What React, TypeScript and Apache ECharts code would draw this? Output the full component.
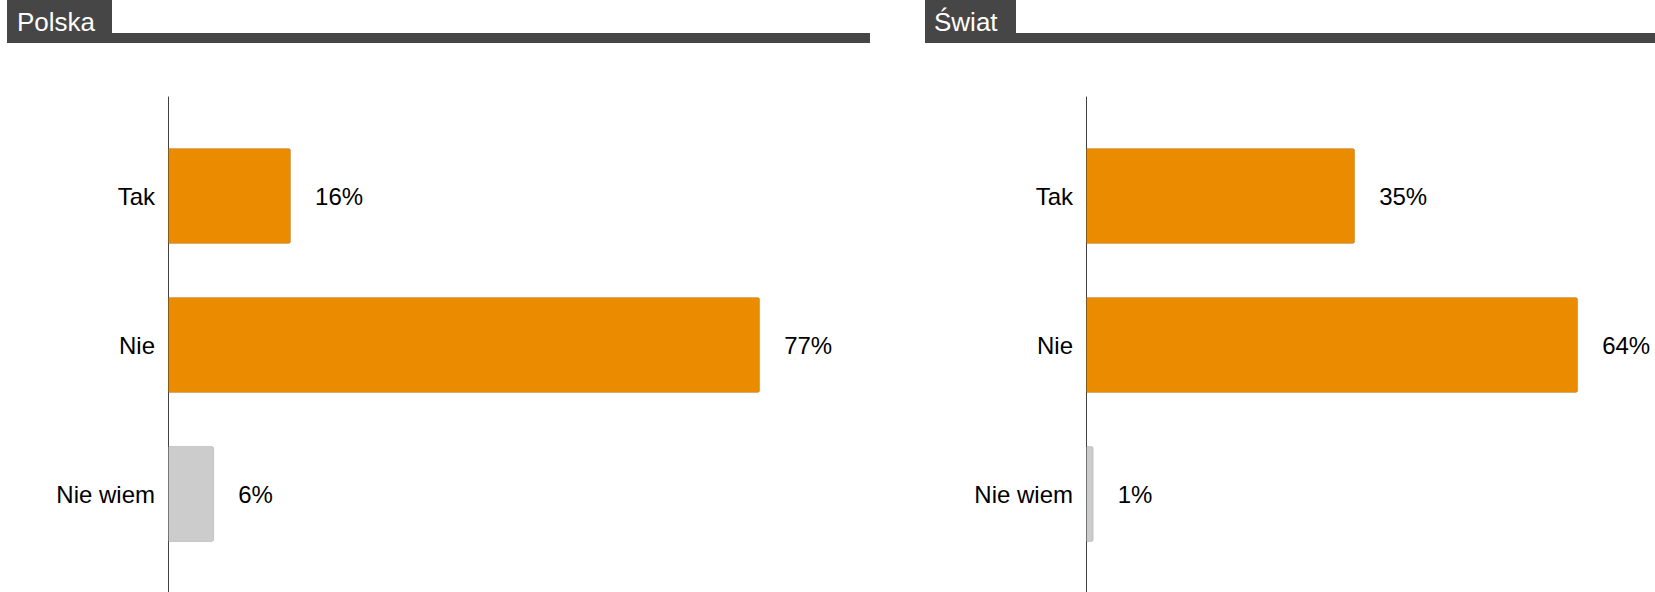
import React, { useEffect, useRef } from "react";
import * as echarts from "echarts";

const categories = ["Tak", "Nie", "Nie wiem"];
const polskaValues = [16, 77, 6];
const swiatValues = [35, 64, 1];
const panelTitles = ["Polska", "Świat"];
const barColors = ["#EB8C00", "#EB8C00", "#CCCCCC"];

const FONT = "'Liberation Sans', Arial, sans-serif";
const PX_PER_PCT = 7.69;

export default function App() {
  const ref = useRef<HTMLDivElement>(null);

  useEffect(() => {
    if (!ref.current) return;
    const chart = echarts.init(ref.current, null, { renderer: "svg" });

    const leftMax = 80;
    const rightMax = 70;

    const makeSeries = (values: number[], idx: number) => ({
      type: "bar",
      xAxisIndex: idx,
      yAxisIndex: idx,
      barWidth: 96,
      data: values.map((v, i) => ({
        value: v,
        itemStyle: {
          color: barColors[i],
          borderRadius: [0, 2, 2, 0],
          borderColor: "rgba(0,0,0,0.12)",
          borderWidth: 1,
        },
      })),
      label: {
        show: true,
        position: "right",
        distance: 24,
        formatter: "{c}%",
        color: "#000",
        fontSize: 24,
        fontFamily: FONT,
        textBorderColor: "#fff",
        textBorderWidth: 2,
      },
    });

    const catAxis = (gridIndex: number) => ({
      type: "category",
      gridIndex,
      data: categories,
      inverse: true,
      axisLine: { show: false },
      axisTick: { show: false },
      axisLabel: {
        color: "#000",
        fontSize: 24,
        fontFamily: FONT,
        margin: 13,
      },
    });

    const lineAxis = (gridIndex: number) => ({
      type: "value",
      gridIndex,
      axisLine: { show: true, lineStyle: { color: "#404040", width: 1 } },
      axisTick: { show: false },
      axisLabel: { show: false },
      splitLine: { show: false },
    });

    const hiddenX = (gridIndex: number, max: number) => ({
      type: "value",
      gridIndex,
      min: 0,
      max,
      show: false,
      splitLine: { show: false },
    });

    const option: any = {
      animation: false,
      backgroundColor: "#fff",
      grid: [
        { left: 168, top: 121.5, height: 447, width: leftMax * PX_PER_PCT },
        { left: 1086, top: 121.5, height: 447, width: rightMax * PX_PER_PCT },
        { left: 168, top: 97, bottom: -5, width: 10 },
        { left: 1086, top: 97, bottom: -5, width: 10 },
      ],
      xAxis: [
        hiddenX(0, leftMax),
        hiddenX(1, rightMax),
        hiddenX(2, 1),
        hiddenX(3, 1),
      ],
      yAxis: [catAxis(0), catAxis(1), lineAxis(2), lineAxis(3)],
      series: [makeSeries(polskaValues, 0), makeSeries(swiatValues, 1)],
      graphic: [
        { type: "rect", shape: { x: 7, y: 33, width: 863, height: 10 }, style: { fill: "#464646" } },
        { type: "rect", shape: { x: 7, y: 0, width: 105, height: 43 }, style: { fill: "#464646" } },
        {
          type: "text",
          x: 17,
          y: 22,
          style: {
            text: panelTitles[0],
            fill: "#fff",
            fontSize: 26,
            fontFamily: FONT,
            verticalAlign: "middle",
            align: "left",
          },
        },
        { type: "rect", shape: { x: 925, y: 33, width: 730, height: 10 }, style: { fill: "#464646" } },
        { type: "rect", shape: { x: 925, y: 0, width: 91, height: 43 }, style: { fill: "#464646" } },
        {
          type: "text",
          x: 934,
          y: 22,
          style: {
            text: panelTitles[1],
            fill: "#fff",
            fontSize: 26,
            fontFamily: FONT,
            verticalAlign: "middle",
            align: "left",
          },
        },
      ],
    };

    chart.setOption(option);
    return () => chart.dispose();
  }, []);

  return (
    <div
      ref={ref}
      style={{ position: "absolute", left: 0, top: 0, width: 1655, height: 592 }}
    />
  );
}
